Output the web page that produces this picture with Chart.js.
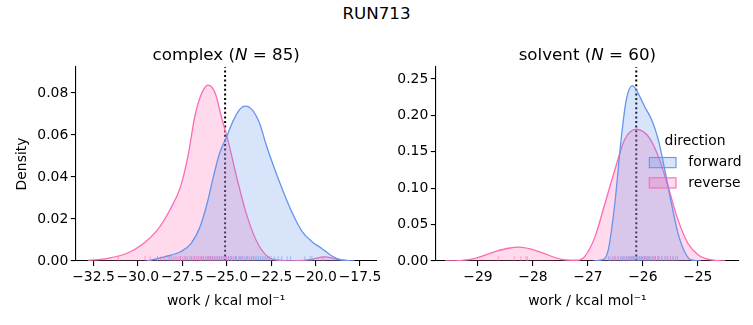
<!DOCTYPE html>
<html lang="en">
<head>
  <meta charset="UTF-8" />
  <title>RUN713</title>
  <style>
    body { margin: 0; background: #ffffff; font-family: 'DejaVu Sans', sans-serif; }
    #wrap { position: relative; width: 753px; height: 325px; overflow: hidden; }
    #sup {
      position: absolute; left: 0; top: 2.5px; width: 753px;
      text-align: center; font-size: 16.7px; line-height: 20px; color: #000;
    }
    canvas { position: absolute; top: 0; }
    #leftCanvas { left: 0; }
    #rightCanvas { left: 385px; }
  </style>
</head>
<body>
  <div id="wrap">
    <div id="sup">RUN713</div>
    <canvas id="leftCanvas" width="385" height="325"></canvas>
    <canvas id="rightCanvas" width="368" height="325"></canvas>
  </div>

  <script src="https://cdn.jsdelivr.net/npm/chart.js"></script>
  <script>
    const BLUE = '#6495ED';
    const PINK = '#FF69B4';
    const BLUE_FILL = 'rgba(100,149,237,0.25)';
    const PINK_FILL = 'rgba(255,105,180,0.25)';
    const FONT = "'DejaVu Sans', sans-serif";

    // complex leg, KDE curves
    const complexFwdX = [-29.5, -28.5, -27.6, -27.0, -26.5, -26.1, -25.75, -25.4, -25.0, -24.65, -24.3, -23.95, -23.55, -23.15, -22.8, -22.35, -21.85, -21.3, -20.75, -20.2, -19.65, -19.1, -18.55, -17.8];
    const complexFwdY = [0.0, 0.002, 0.0044, 0.0084, 0.0163, 0.0275, 0.0401, 0.0513, 0.0592, 0.0665, 0.0719, 0.0738, 0.0719, 0.0656, 0.056, 0.0449, 0.0338, 0.0227, 0.014, 0.0092, 0.006, 0.0025, 0.0005, 0.0];
    const complexRevX = [-32.8, -31.7, -30.6, -29.8, -28.9, -28.2, -27.6, -27.15, -26.8, -26.4, -26.05, -25.65, -25.3, -24.9, -24.4, -23.9, -23.35, -22.8, -22.25, -21.5, -20.7, -20.2, -19.5, -18.75, -18.0];
    const complexRevY = [0.0003, 0.0013, 0.0037, 0.0076, 0.0148, 0.0243, 0.0354, 0.0513, 0.0687, 0.080, 0.0838, 0.080, 0.0687, 0.0565, 0.0386, 0.0227, 0.010, 0.0029, 0.0005, 0.0001, 0.0003, 0.0008, 0.002, 0.0008, 0.0];

    // solvent leg
    const solventFwdX = [-26.9, -26.75, -26.63, -26.51, -26.39, -26.3, -26.19, -26.09, -25.97, -25.84, -25.72, -25.6, -25.48, -25.36, -25.24, -25.12, -24.95];
    const solventFwdY = [0.0, 0.0014, 0.015, 0.079, 0.171, 0.222, 0.241, 0.231, 0.2125, 0.194, 0.167, 0.125, 0.079, 0.038, 0.0128, 0.0014, 0.0];
    const solventRevX = [-29.6, -29.3, -29.05, -28.69, -28.45, -28.24, -28.05, -27.84, -27.48, -27.2, -27.06, -26.87, -26.69, -26.51, -26.33, -26.12, -25.9, -25.72, -25.54, -25.36, -25.18, -24.99, -24.75, -24.5];
    const solventRevY = [0.0, 0.0008, 0.0037, 0.0128, 0.0175, 0.019, 0.0165, 0.0115, 0.0023, 0.001, 0.006, 0.0335, 0.079, 0.125, 0.167, 0.181, 0.171, 0.144, 0.102, 0.0565, 0.0244, 0.0083, 0.0014, 0.0];

    // rug samples (work values)
    const complexFwdRug = [-28.9, -28.2, -27.6, -27.3, -27.0, -26.8, -26.6, -26.4, -26.3, -26.1, -26.0, -25.9, -25.8, -25.7, -25.6, -25.5, -25.4, -25.3, -25.2, -25.1, -25.0, -24.9, -24.8, -24.75, -24.6, -24.5, -24.45, -24.3, -24.2, -24.15, -24.0, -23.9, -23.85, -23.7, -23.6, -23.5, -23.4, -23.3, -23.2, -23.1, -23.0, -22.9, -22.8, -22.7, -22.6, -22.5, -22.3, -22.1, -21.9, -21.6, -21.4, -20.6, -20.3, -20.2];
    const complexRevRug = [-31.1, -29.6, -29.3, -28.9, -28.7, -28.5, -28.3, -28.1, -28.0, -27.9, -27.8, -27.7, -27.6, -27.5, -27.4, -27.3, -27.2, -27.1, -27.0, -26.9, -26.8, -26.7, -26.6, -26.5, -26.45, -26.4, -26.3, -26.2, -26.1, -26.0, -25.95, -25.9, -25.8, -25.7, -25.6, -25.5, -25.4, -25.3, -25.2, -25.1, -25.0, -24.9, -24.7, -24.5, -24.3, -24.1, -23.8, -23.5, -19.6];
    const solventFwdRug = [-26.62, -26.55, -26.5, -26.45, -26.4, -26.37, -26.33, -26.3, -26.27, -26.25, -26.22, -26.2, -26.18, -26.15, -26.12, -26.1, -26.07, -26.05, -26.02, -26.0, -25.97, -25.95, -25.92, -25.9, -25.87, -25.83, -25.8, -25.77, -25.73, -25.7, -25.65, -25.6, -25.55, -25.5, -25.45, -25.4, -25.37];
    const solventRevRug = [-28.63, -28.34, -28.22, -28.13, -28.1, -26.6, -26.52, -26.45, -26.4, -26.35, -26.3, -26.25, -26.2, -26.17, -26.14, -26.1, -26.06, -26.02, -25.98, -25.93, -25.88, -25.83, -25.78, -25.72, -25.65, -25.58, -25.5, -25.45];

    // reference lines (dotted)
    const complexMark = -25.09;
    const solventMark = -26.12;

    // ticks
    const complexXTicks = [-32.5, -30.0, -27.5, -25.0, -22.5, -20.0, -17.5];
    const complexYTicks = [0.00, 0.02, 0.04, 0.06, 0.08];
    const solventXTicks = [-29, -28, -27, -26, -25];
    const solventYTicks = [0.00, 0.05, 0.10, 0.15, 0.20, 0.25];

    const legendTitle = 'direction';
    const legendLabels = ['forward', 'reverse'];

    function pts(xs, ys) {
      return xs.map((x, i) => ({ x: x, y: ys[i] }));
    }

    function minus(s) {
      return s.replace('-', '\u2212');
    }

    function kdeSet(xs, ys, line, fill) {
      return {
        data: pts(xs, ys),
        borderColor: line,
        backgroundColor: fill,
        borderWidth: 1.3,
        fill: 'origin',
        pointRadius: 0,
        cubicInterpolationMode: 'monotone'
      };
    }

    // draws rug ticks at the bottom of the plot area
    const rugPlugin = {
      id: 'rug',
      afterDatasetsDraw(chart, args, opts) {
        const ctx = chart.ctx;
        const xs = chart.scales.x;
        const bottom = chart.chartArea.bottom;
        ctx.save();
        ctx.lineWidth = 1;
        opts.sets.forEach(set => {
          ctx.strokeStyle = set.color;
          set.values.forEach(v => {
            const px = xs.getPixelForValue(v);
            ctx.beginPath();
            ctx.moveTo(px, bottom);
            ctx.lineTo(px, bottom - 4.8);
            ctx.stroke();
          });
        });
        ctx.restore();
      }
    };

    // panel title with italic N
    const panelTitle = {
      id: 'panelTitle',
      afterDraw(chart, args, opts) {
        const ctx = chart.ctx;
        const parts = opts.parts;
        ctx.save();
        ctx.fillStyle = '#000';
        ctx.textBaseline = 'alphabetic';
        let total = 0;
        parts.forEach(p => {
          ctx.font = (p.italic ? 'italic ' : '') + '16.7px ' + FONT;
          total += ctx.measureText(p.text).width;
        });
        let x = (chart.chartArea.left + chart.chartArea.right) / 2 - total / 2;
        parts.forEach(p => {
          ctx.font = (p.italic ? 'italic ' : '') + '16.7px ' + FONT;
          ctx.fillText(p.text, x, 60);
          x += ctx.measureText(p.text).width;
        });
        ctx.restore();
      }
    };

    const legendPlugin = {
      id: 'kdeLegend',
      afterDraw(chart, args, opts) {
        if (!opts.show) return;
        const ctx = chart.ctx;
        ctx.save();
        ctx.font = '13.9px ' + FONT;
        ctx.fillStyle = '#000';
        ctx.textBaseline = 'middle';
        ctx.textAlign = 'center';
        ctx.fillText(legendTitle, 310, 141);
        ctx.textAlign = 'left';
        const colors = [[BLUE, BLUE_FILL], [PINK, PINK_FILL]];
        legendLabels.forEach((lab, i) => {
          const y = 157.5 + i * 20.3;
          ctx.fillStyle = colors[i][1];
          ctx.fillRect(264.3, y, 26.7, 10.2);
          ctx.strokeStyle = colors[i][0];
          ctx.lineWidth = 1.1;
          ctx.strokeRect(264.3, y, 26.7, 10.2);
          ctx.fillStyle = '#000';
          ctx.fillText(lab, 303.3, y + 5.2);
        });
        ctx.restore();
      }
    };

    Chart.register(rugPlugin, panelTitle, legendPlugin);

    function makePanel(id, cfg) {
      const axisBase = {
        type: 'linear',
        grid: { display: true, drawOnChartArea: false, drawTicks: true, tickLength: 4.9, color: '#000', lineWidth: 1.1 },
        border: { display: true, color: '#000', width: 1.1 },
        ticks: { color: '#000', font: { family: FONT, size: 13.9 } }
      };
      return new Chart(document.getElementById(id), {
        type: 'line',
        data: {
          datasets: [
            kdeSet(cfg.fwdX, cfg.fwdY, BLUE, BLUE_FILL),
            kdeSet(cfg.revX, cfg.revY, PINK, PINK_FILL),
            {
              data: [{ x: cfg.mark, y: 0 }, { x: cfg.mark, y: cfg.ymax }],
              borderColor: '#000',
              borderWidth: 2,
              borderDash: [2, 2.6],
              pointRadius: 0,
              fill: false
            }
          ]
        },
        options: {
          responsive: false,
          animation: false,
          devicePixelRatio: 1,
          layout: { padding: { top: 67, right: cfg.padRight, left: 0, bottom: 0 } },
          plugins: {
            legend: { display: false },
            tooltip: { enabled: false },
            rug: { sets: [
              { values: cfg.fwdRug, color: 'rgba(100,149,237,0.55)' },
              { values: cfg.revRug, color: 'rgba(255,105,180,0.55)' }
            ] },
            panelTitle: { parts: cfg.title },
            kdeLegend: { show: cfg.legend }
          },
          scales: {
            x: Object.assign({}, axisBase, {
              min: cfg.xmin, max: cfg.xmax,
              afterFit: s => { s.height = 64; },
              afterBuildTicks: s => { s.ticks = cfg.xTicks.map(v => ({ value: v })); },
              ticks: Object.assign({}, axisBase.ticks, {
                padding: 3.5,
                maxRotation: 0,
                autoSkip: false,
                callback: v => minus(v.toFixed(cfg.xDec))
              }),
              title: {
                display: true,
                text: 'work / kcal mol\u207B\u00B9',
                color: '#000',
                font: { family: FONT, size: 13.9 },
                padding: { top: 0, bottom: 15.2 }
              }
            }),
            y: Object.assign({}, axisBase, {
              min: 0, max: cfg.ymax,
              afterFit: s => { s.width = cfg.yWidth; },
              afterBuildTicks: s => { s.ticks = cfg.yTicks.map(v => ({ value: v })); },
              ticks: Object.assign({}, axisBase.ticks, {
                padding: 2.5,
                autoSkip: false,
                callback: v => v.toFixed(2)
              }),
              title: {
                display: cfg.yTitle,
                text: 'Density',
                color: '#000',
                font: { family: FONT, size: 13.9 },
                padding: { top: 13.7, bottom: 0 }
              }
            })
          }
        }
      });
    }

    makePanel('leftCanvas', {
      fwdX: complexFwdX, fwdY: complexFwdY, revX: complexRevX, revY: complexRevY,
      fwdRug: complexFwdRug, revRug: complexRevRug,
      mark: complexMark,
      xmin: -33.5, xmax: -16.56, ymax: 0.0924,
      xTicks: complexXTicks, yTicks: complexYTicks, xDec: 1,
      yWidth: 75.7, padRight: 5, yTitle: true, legend: false,
      title: [{ text: 'complex (' }, { text: 'N', italic: true }, { text: ' = 85)' }]
    });

    makePanel('rightCanvas', {
      fwdX: solventFwdX, fwdY: solventFwdY, revX: solventRevX, revY: solventRevY,
      fwdRug: solventFwdRug, revRug: solventRevRug,
      mark: solventMark,
      xmin: -29.77, xmax: -24.25, ymax: 0.2665,
      xTicks: solventXTicks, yTicks: solventYTicks, xDec: 0,
      yWidth: 50.7, padRight: 14, yTitle: false, legend: true,
      title: [{ text: 'solvent (' }, { text: 'N', italic: true }, { text: ' = 60)' }]
    });
  </script>
</body>
</html>
